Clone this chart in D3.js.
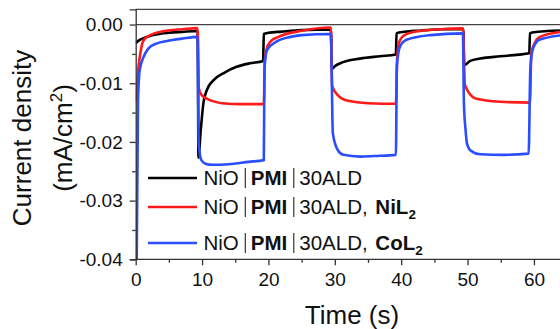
<!DOCTYPE html>
<html>
<head>
<meta charset="utf-8">
<script src="https://cdn.jsdelivr.net/npm/d3@7"></script>
<style>
  html, body { margin: 0; padding: 0; background: #fff; }
  svg { display: block; font-family: "Liberation Sans", Arial, sans-serif; }
</style>
</head>
<body>
<svg id="main-svg" width="560" height="329"></svg>
<script>
// ticks
var xTicks = [0, 10, 20, 30, 40, 50, 60];
var xMinor = [5, 15, 25, 35, 45, 55, 65];
var yTicks = [0, -0.01, -0.02, -0.03, -0.04];
var yTickLabels = ["0.00", "-0.01", "-0.02", "-0.03", "-0.04"];
var yMinor = [-0.005, -0.015, -0.025, -0.035];

// [time (s), current density (mA/cm2)]
var blackData = [
  [0, -0.0032], [0.5, -0.0027], [1, -0.0024], [2, -0.002], [3, -0.0017], [5, -0.0014],
  [7, -0.00125], [9.35, -0.0011], [9.45, -0.0227], [9.8, -0.018], [10.2, -0.0134],
  [10.7, -0.0112], [11.7, -0.0095], [13.2, -0.0083], [15.2, -0.0072], [17.2, -0.0066],
  [19.2, -0.0062], [19.3, -0.0016], [20, -0.0014], [22, -0.0012], [25, -0.00095],
  [29.4, -0.00085], [29.55, -0.0076], [30, -0.0071], [30.8, -0.0066], [33.8, -0.0058],
  [36.8, -0.0054], [39.2, -0.0051], [39.3, -0.0015], [40, -0.0013], [43, -0.001],
  [46, -0.0008], [49.35, -0.00075], [49.5, -0.0069], [50.4, -0.0062], [51.9, -0.0058],
  [54.9, -0.0054], [59.3, -0.0049], [59.4, -0.0015], [60, -0.0013], [62, -0.0011], [64.5, -0.001]
];
var redData = [
  [0.1, -0.013], [0.4, -0.0075], [0.7, -0.0049], [1.1, -0.0029], [1.6, -0.0022], [2.2, -0.0018],
  [3.5, -0.0013], [5, -0.001], [7, -0.0008], [9.3, -0.0006], [9.5, -0.0108], [9.8, -0.0118],
  [10.5, -0.0125], [11.5, -0.013], [13, -0.0134], [16, -0.01355], [19.3, -0.01355],
  [19.45, -0.006], [19.7, -0.0043], [20.3, -0.0029], [21.5, -0.0021], [24.8, -0.0011],
  [29.4, -0.0005], [29.6, -0.0105], [30.5, -0.0121], [32, -0.013], [35, -0.0134],
  [39.2, -0.0135], [39.4, -0.0055], [39.7, -0.003], [40.5, -0.0018], [42.8, -0.0011],
  [46, -0.0008], [49.3, -0.00065], [49.6, -0.0103], [51.2, -0.0126], [54.9, -0.01315],
  [59.4, -0.0133], [59.6, -0.0049], [60.1, -0.0032], [60.9, -0.0021], [64.5, -0.0012]
];
var blueData = [
  [0.15, -0.04], [0.35, -0.013], [0.6, -0.0078], [1.2, -0.0055], [1.9, -0.0041], [3.2, -0.0032],
  [4.7, -0.0028], [7, -0.0024], [9.3, -0.0021], [9.5, -0.0205], [9.9, -0.0231], [10.5, -0.0237],
  [11.6, -0.0239], [14, -0.0238], [17, -0.0234], [19.3, -0.0231], [19.4, -0.0075],
  [19.8, -0.0043], [21.2, -0.0029], [23.3, -0.0021], [25, -0.0018], [29.4, -0.0016],
  [29.7, -0.0185], [30.4, -0.0213], [31.3, -0.0222], [33.8, -0.0225], [36, -0.0224],
  [39.2, -0.0222], [39.35, -0.007], [39.8, -0.0038], [40.8, -0.0026], [44.4, -0.0018],
  [49.3, -0.0015], [49.45, -0.0134], [49.7, -0.018], [49.9, -0.0202], [50.4, -0.0214],
  [51.9, -0.0221], [55.4, -0.0222], [59.2, -0.022], [59.45, -0.0078], [59.8, -0.0043],
  [60.8, -0.0026], [64.5, -0.0018]
];

var seriesData = [blackData, redData, blueData];
var seriesColors = ["#000000", "#ff1a1a", "#2a4dff"];

// legend text pieces: [text, style]  ("|" = separator bar)
var legendParts = [
  [["NiO", ""], ["|", ""], ["PMI", "b"], ["|", ""], ["30ALD", ""]],
  [["NiO", ""], ["|", ""], ["PMI", "b"], ["|", ""], ["30ALD, ", ""], ["NiL", "b"], ["2", "sub"]],
  [["NiO", ""], ["|", ""], ["PMI", "b"], ["|", ""], ["30ALD, ", ""], ["CoL", "b"], ["2", "sub"]]
];

var svg = d3.select("#main-svg");
var axisColor = "#333";

var x = d3.scaleLinear().domain([0, 64]).range([135.7, 560.5]);
var y = d3.scaleLinear().domain([-0.04, 0.0026]).range([259.3, 9.3]);

// top frame and zero line
svg.append("line")
  .attr("x1", x(0)).attr("x2", 560).attr("y1", y(0.0026)).attr("y2", y(0.0026))
  .attr("stroke", "#444").attr("stroke-width", 1.3);
svg.append("line")
  .attr("x1", x(0)).attr("x2", 560).attr("y1", y(0)).attr("y2", y(0))
  .attr("stroke", "#444").attr("stroke-width", 1.3);

// data lines, clipped to plot
svg.append("clipPath").attr("id", "plotclip")
  .append("rect")
  .attr("x", x(0)).attr("y", y(0.0026))
  .attr("width", 560 - x(0)).attr("height", y(-0.04) - y(0.0026));

var line = d3.line()
  .x(d => x(d[0]))
  .y(d => y(d[1]))
  .curve(d3.curveMonotoneX);

var plot = svg.append("g").attr("clip-path", "url(#plotclip)");
seriesData.forEach(function(data, i) {
  plot.append("path")
    .datum(data)
    .attr("d", line)
    .attr("fill", "none")
    .attr("stroke", seriesColors[i])
    .attr("stroke-width", 2.6)
    .attr("stroke-linejoin", "round");
});

// axes
function styleAxis(g) {
  g.select(".domain").attr("stroke", axisColor).attr("stroke-width", 1.3);
  g.selectAll(".tick line").attr("stroke", axisColor).attr("stroke-width", 1.3);
  g.selectAll(".tick text")
    .attr("fill", "#111")
    .style("font-size", "19px")
    .style("font-family", '"Liberation Sans", Arial, sans-serif');
}

var xAxis = svg.append("g")
  .attr("transform", "translate(0," + y(-0.04) + ")")
  .call(d3.axisBottom(x).tickValues(xTicks).tickSize(6).tickPadding(7).tickFormat(d3.format("d")))
  .call(styleAxis);
xAxis.select(".domain").attr("d", "M" + x(0) + ",0H560");

svg.append("g")
  .attr("transform", "translate(0," + y(-0.04) + ")")
  .call(d3.axisBottom(x).tickValues(xMinor).tickSize(3.5).tickFormat(""))
  .call(styleAxis)
  .select(".domain").remove();

svg.append("g")
  .attr("transform", "translate(" + x(0) + ",0)")
  .call(d3.axisLeft(y).tickValues(yTicks).tickSize(6).tickPadding(7)
    .tickFormat((d, i) => yTickLabels[i]))
  .call(styleAxis);

svg.append("g")
  .attr("transform", "translate(" + x(0) + ",0)")
  .call(d3.axisLeft(y).tickValues(yMinor).tickSize(3.5).tickFormat(""))
  .call(styleAxis)
  .select(".domain").remove();

// axis titles
svg.append("text")
  .attr("x", 352).attr("y", 324)
  .attr("text-anchor", "middle")
  .attr("fill", "#111")
  .style("font-size", "26px")
  .text("Time (s)");

var yTitle = svg.append("g").attr("transform", "translate(31,138) rotate(-90)");
yTitle.append("text")
  .attr("text-anchor", "middle")
  .attr("fill", "#111")
  .style("font-size", "26px")
  .text("Current density");
var yt2 = yTitle.append("text")
  .attr("y", 41)
  .attr("text-anchor", "middle")
  .attr("fill", "#111")
  .style("font-size", "26px");
yt2.append("tspan").text("(mA/cm");
yt2.append("tspan").attr("dy", -10).style("font-size", "17px").text("2");
yt2.append("tspan").attr("dy", 10).text(")");

// legend
var legendY = [185, 214, 250];
var legend = svg.append("g");
legendParts.forEach(function(parts, i) {
  var by = legendY[i];
  legend.append("line")
    .attr("x1", 148).attr("x2", 197)
    .attr("y1", by - 7).attr("y2", by - 7)
    .attr("stroke", seriesColors[i])
    .attr("stroke-width", 2.6);
  var cx = 203.5;
  parts.forEach(function(p, j) {
    if (p[0] === "|") {
      cx += 6.5;
      legend.append("line")
        .attr("x1", cx).attr("x2", cx)
        .attr("y1", by - 17).attr("y2", by + 3)
        .attr("stroke", "#333").attr("stroke-width", 1.2);
      cx += 5.5;
      return;
    }
    if (p[1] === "b" && j > 4) cx += 2;
    var t = legend.append("text")
      .attr("x", cx)
      .attr("y", p[1] === "sub" ? by + 5 : by)
      .attr("fill", "#111")
      .style("font-size", p[1] === "sub" ? "13.5px" : "20.5px")
      .style("font-weight", p[1] === "" ? "normal" : "bold")
      .attr("xml:space", "preserve")
      .text(p[0]);
    cx += t.node().getComputedTextLength();
  });
});
</script>
</body>
</html>
